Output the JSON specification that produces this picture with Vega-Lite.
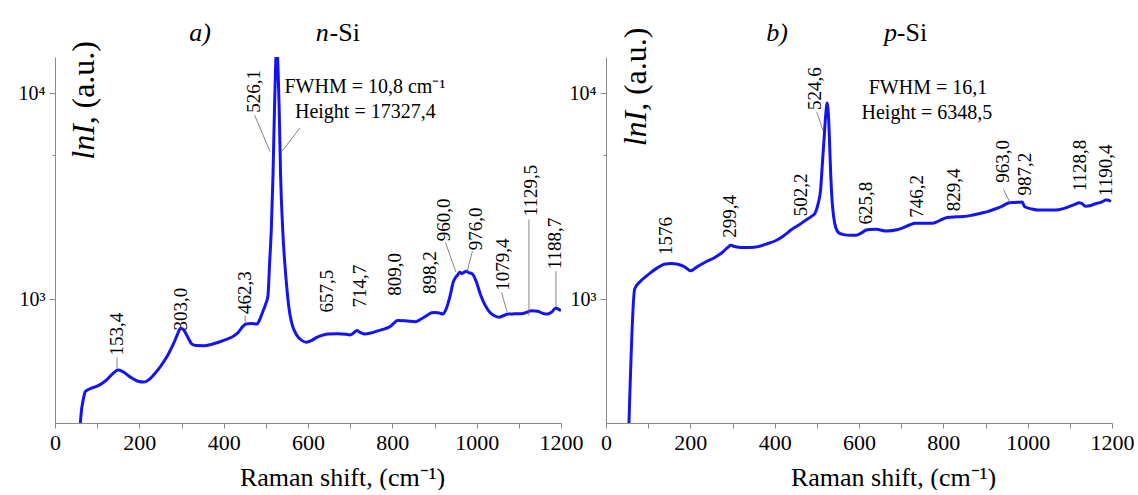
{
  "$schema": "https://vega.github.io/schema/vega-lite/v6.json",
  "autosize": {"type": "pad"},
  "padding": {"left": 18, "top": 20, "right": 5, "bottom": 0},
  "background": "white",
  "bounds": "flush",
  "spacing": 45,
  "config": {
    "view": {"stroke": null},
    "font": "Liberation Serif",
    "text": {"font": "Liberation Serif"},
    "axis": {"grid": false, "domainColor": "#8a8a8a", "tickColor": "#8a8a8a", "labelColor": "#000000", "titleColor": "#000000", "labelFont": "Liberation Serif", "titleFont": "Liberation Serif", "titleFontWeight": "normal"}
  },
  "datasets": {
    "nsi": [
      {"x": 60, "y": 250}, {"x": 63, "y": 290}, {"x": 67, "y": 325}, {"x": 72, "y": 356}, {"x": 85, "y": 368},
      {"x": 100, "y": 378}, {"x": 112, "y": 390}, {"x": 125, "y": 410}, {"x": 140, "y": 440}, {"x": 150, "y": 452},
      {"x": 160, "y": 445}, {"x": 177, "y": 420}, {"x": 195, "y": 400}, {"x": 211, "y": 395}, {"x": 222, "y": 405},
      {"x": 233, "y": 426}, {"x": 250, "y": 470}, {"x": 267, "y": 532}, {"x": 280, "y": 600}, {"x": 290, "y": 670},
      {"x": 298, "y": 722}, {"x": 305, "y": 710}, {"x": 311, "y": 677}, {"x": 318, "y": 635}, {"x": 324, "y": 606},
      {"x": 335, "y": 595}, {"x": 354, "y": 594}, {"x": 370, "y": 602}, {"x": 388, "y": 617}, {"x": 405, "y": 635},
      {"x": 423, "y": 659}, {"x": 435, "y": 690}, {"x": 445, "y": 735}, {"x": 453, "y": 757}, {"x": 465, "y": 760},
      {"x": 479, "y": 757}, {"x": 486, "y": 800}, {"x": 492, "y": 861}, {"x": 500, "y": 950}, {"x": 505, "y": 1037},
      {"x": 509, "y": 1500}, {"x": 513, "y": 2185}, {"x": 517, "y": 4000}, {"x": 520.7, "y": 8700}, {"x": 523, "y": 13000},
      {"x": 526.1, "y": 17327}, {"x": 529, "y": 13000}, {"x": 531.5, "y": 8700}, {"x": 535, "y": 4000}, {"x": 540, "y": 2185},
      {"x": 548, "y": 1250}, {"x": 555, "y": 900}, {"x": 561, "y": 771}, {"x": 568, "y": 700}, {"x": 574, "y": 664},
      {"x": 585, "y": 630}, {"x": 596, "y": 617}, {"x": 610, "y": 632}, {"x": 622, "y": 653}, {"x": 635, "y": 668},
      {"x": 648, "y": 677}, {"x": 670, "y": 678}, {"x": 690, "y": 675}, {"x": 699, "y": 670}, {"x": 706, "y": 678},
      {"x": 712, "y": 695}, {"x": 716.5, "y": 703}, {"x": 722, "y": 692}, {"x": 734, "y": 677}, {"x": 750, "y": 685},
      {"x": 768, "y": 703}, {"x": 785, "y": 720}, {"x": 798, "y": 743}, {"x": 805, "y": 768}, {"x": 811.5, "y": 786},
      {"x": 830, "y": 785}, {"x": 855, "y": 777}, {"x": 868, "y": 800}, {"x": 881, "y": 830}, {"x": 893, "y": 858},
      {"x": 902, "y": 861}, {"x": 912, "y": 855}, {"x": 920, "y": 846}, {"x": 928, "y": 900}, {"x": 937, "y": 1037},
      {"x": 944, "y": 1200}, {"x": 950, "y": 1274}, {"x": 955, "y": 1310}, {"x": 960, "y": 1350}, {"x": 965, "y": 1330},
      {"x": 970, "y": 1350}, {"x": 976, "y": 1365}, {"x": 982, "y": 1340}, {"x": 987, "y": 1335}, {"x": 993, "y": 1297},
      {"x": 1000, "y": 1200}, {"x": 1010, "y": 1037}, {"x": 1020, "y": 935}, {"x": 1031.6, "y": 861}, {"x": 1042, "y": 830},
      {"x": 1053, "y": 815}, {"x": 1063, "y": 830}, {"x": 1075, "y": 846}, {"x": 1090, "y": 848}, {"x": 1110, "y": 852},
      {"x": 1131, "y": 878}, {"x": 1145, "y": 872}, {"x": 1160, "y": 848}, {"x": 1168, "y": 846}, {"x": 1178, "y": 865},
      {"x": 1187, "y": 902}, {"x": 1193, "y": 895}, {"x": 1200, "y": 878}
    ],
    "psi": [
      {"x": 54.5, "y": 250}, {"x": 68, "y": 1118}, {"x": 80, "y": 1210}, {"x": 95, "y": 1290}, {"x": 106, "y": 1345},
      {"x": 120, "y": 1410}, {"x": 138, "y": 1476}, {"x": 155, "y": 1490}, {"x": 170, "y": 1476}, {"x": 185, "y": 1440},
      {"x": 201, "y": 1371}, {"x": 215, "y": 1430}, {"x": 235, "y": 1510}, {"x": 258, "y": 1592}, {"x": 275, "y": 1680},
      {"x": 290, "y": 1790}, {"x": 296, "y": 1824}, {"x": 305, "y": 1800}, {"x": 321, "y": 1779}, {"x": 340, "y": 1780},
      {"x": 361, "y": 1798}, {"x": 380, "y": 1850}, {"x": 401, "y": 1915}, {"x": 420, "y": 2020}, {"x": 441, "y": 2182},
      {"x": 460, "y": 2310}, {"x": 473, "y": 2412}, {"x": 488, "y": 2530}, {"x": 495, "y": 2600}, {"x": 503, "y": 2900},
      {"x": 509, "y": 3405}, {"x": 513, "y": 4500}, {"x": 517, "y": 5944}, {"x": 521, "y": 7800}, {"x": 524.6, "y": 8958},
      {"x": 528, "y": 7500}, {"x": 530, "y": 5944}, {"x": 533, "y": 4000}, {"x": 536, "y": 3047}, {"x": 540, "y": 2500},
      {"x": 545, "y": 2222}, {"x": 552, "y": 2100}, {"x": 561, "y": 2063}, {"x": 580, "y": 2040}, {"x": 593, "y": 2041},
      {"x": 605, "y": 2090}, {"x": 617, "y": 2165}, {"x": 625, "y": 2180}, {"x": 641, "y": 2182}, {"x": 665, "y": 2141},
      {"x": 690, "y": 2170}, {"x": 705, "y": 2222}, {"x": 720, "y": 2290}, {"x": 733, "y": 2333}, {"x": 750, "y": 2335},
      {"x": 773, "y": 2333}, {"x": 790, "y": 2400}, {"x": 809, "y": 2490}, {"x": 830, "y": 2510}, {"x": 849, "y": 2518},
      {"x": 870, "y": 2560}, {"x": 889, "y": 2612}, {"x": 905, "y": 2660}, {"x": 921, "y": 2731}, {"x": 940, "y": 2830},
      {"x": 957, "y": 2940}, {"x": 970, "y": 2945}, {"x": 981, "y": 2958}, {"x": 987, "y": 2960}, {"x": 993, "y": 2807},
      {"x": 1010, "y": 2740}, {"x": 1025, "y": 2706}, {"x": 1065, "y": 2706}, {"x": 1085, "y": 2750}, {"x": 1101, "y": 2826},
      {"x": 1115, "y": 2900}, {"x": 1121, "y": 2940}, {"x": 1128, "y": 2920}, {"x": 1137, "y": 2826}, {"x": 1150, "y": 2850},
      {"x": 1161, "y": 2906}, {"x": 1175, "y": 2960}, {"x": 1185, "y": 3027}, {"x": 1190, "y": 3030}, {"x": 1197, "y": 2972}
    ],
    "nlab": [
      {"x": 147, "y": 532, "t": "153,4"}, {"x": 298, "y": 703, "t": "303,0"}, {"x": 451, "y": 846, "t": "462,3"},
      {"x": 645, "y": 861, "t": "657,5"}, {"x": 722.6, "y": 911, "t": "714,7"}, {"x": 807, "y": 1037, "t": "809,0"},
      {"x": 889, "y": 1057, "t": "898,2"}, {"x": 922, "y": 1910, "t": "960,0"}, {"x": 998, "y": 1726, "t": "976,0"},
      {"x": 1063, "y": 1097, "t": "1079,4"}, {"x": 1129.5, "y": 2523, "t": "1129,5"}, {"x": 1185, "y": 1397, "t": "1188,7"},
      {"x": 473, "y": 8035, "t": "526,1"}
    ],
    "plab": [
      {"x": 141.6, "y": 1637, "t": "1576"}, {"x": 293.6, "y": 1986, "t": "299,4"}, {"x": 463, "y": 2529, "t": "502,2"},
      {"x": 496, "y": 8300, "t": "524,6"}, {"x": 617, "y": 2306, "t": "625,8"}, {"x": 737, "y": 2483, "t": "746,2"},
      {"x": 825, "y": 2674, "t": "829,4"}, {"x": 941, "y": 3673, "t": "963,0"}, {"x": 994, "y": 3186, "t": "987,2"},
      {"x": 1125, "y": 3342, "t": "1128,8"}, {"x": 1185, "y": 3162, "t": "1190,4"}
    ],
    "nlead": [
      {"x": 147, "x2": 147, "y": 522, "y2": 458}, {"x": 451, "x2": 451, "y": 831, "y2": 757},
      {"x": 926, "x2": 951, "y": 1880, "y2": 1351}, {"x": 990, "x2": 977, "y": 1713, "y2": 1346},
      {"x": 1059, "x2": 1072, "y": 1077, "y2": 868}, {"x": 1124, "x2": 1124, "y": 2438, "y2": 830},
      {"x": 1188, "x2": 1188, "y": 1366, "y2": 915}, {"x": 473, "x2": 510, "y": 7850, "y2": 5210},
      {"x": 581, "x2": 538, "y": 6790, "y2": 5210}
    ],
    "plead": [
      {"x": 500, "x2": 515, "y": 8100, "y2": 6560}, {"x": 943, "x2": 959, "y": 3400, "y2": 2913}
    ],
    "ntxt": [
      {"x": 735, "y": 10730, "t": "FWHM = 10,8 cm⁻¹"}, {"x": 736, "y": 8150, "t": "Height = 17327,4"}
    ],
    "ptxt": [
      {"x": 763.6, "y": 10600, "t": "FWHM = 16,1"}, {"x": 761, "y": 8040, "t": "Height = 6348,5"}
    ],
    "nrom": [{"x": 687, "y": 19570, "t": "-Si"}],
    "prom": [{"x": 725.7, "y": 19570, "t": "-Si"}],
    "nital": [{"x": 344, "y": 19570, "t": "a)"}, {"x": 634, "y": 19570, "t": "n"}],
    "pital": [{"x": 405.5, "y": 19570, "t": "b)"}, {"x": 674.7, "y": 19570, "t": "p"}],
    "nyt1": [{"x": 69, "y": 4755, "t": "lnI,"}],
    "nyt2": [{"x": 69, "y": 8430, "t": "(a.u.)"}],
    "pyt1": [{"x": 71, "y": 5520, "t": "lnI,"}],
    "pyt2": [{"x": 71, "y": 9800, "t": "(a.u.)"}]
  },
  "hconcat": [
    {
      "width": 506,
      "height": 366,
      "encoding": {
        "x": {"field": "x", "type": "quantitative", "scale": {"domain": [0, 1200], "nice": false, "zero": false},
          "axis": {"values": [0, 100, 200, 300, 400, 500, 600, 700, 800, 900, 1000, 1100, 1200], "format": "d",
            "labelExpr": "datum.value % 200 == 0 ? datum.label : ''", "tickSize": 5, "labelFontSize": 22, "labelPadding": 4,
            "labelFont": "Liberation Serif", "labelFlush": false, "title": "Raman shift, (cm⁻¹)", "titleFontSize": 26, "titleX": 287, "titleY": 62,
            "titleBaseline": "alphabetic", "titleAnchor": "middle"}},
        "y": {"field": "y", "type": "quantitative", "scale": {"type": "log", "domain": [250, 15000], "nice": false},
          "axis": {"values": [1000, 5000, 10000], "labelExpr": "datum.value == 10000 ? '10⁴' : datum.value == 1000 ? '10³' : ''",
            "labelFont": "Liberation Serif", "tickSize": {"condition": {"test": "datum.value == 5000", "value": 3}, "value": 6}, "labelFontSize": 20, "labelPadding": 4, "title": null}}
      },
      "layer": [
        {"data": {"name": "nsi"}, "mark": {"type": "line", "color": "#1414f0", "strokeWidth": 3, "clip": true, "interpolate": "monotone"}},
        {"data": {"name": "nlead"}, "mark": {"type": "rule", "color": "#666666", "strokeWidth": 0.8}, "encoding": {"x2": {"field": "x2"}, "y2": {"field": "y2"}}},
        {"data": {"name": "nlab"}, "mark": {"type": "text", "angle": 270, "align": "left", "baseline": "middle", "fontSize": 19, "font": "Liberation Serif", "color": "#000"}, "encoding": {"text": {"field": "t"}}},
        {"data": {"name": "ntxt"}, "mark": {"type": "text", "align": "center", "baseline": "middle", "fontSize": 20, "font": "Liberation Serif", "color": "#000"}, "encoding": {"text": {"field": "t"}}},
        {"data": {"name": "nrom"}, "mark": {"type": "text", "align": "center", "baseline": "middle", "fontSize": 26, "font": "Liberation Serif", "color": "#000"}, "encoding": {"text": {"field": "t"}}},
        {"data": {"name": "nital"}, "mark": {"type": "text", "align": "center", "baseline": "middle", "fontSize": 26, "fontStyle": "italic", "font": "Liberation Serif", "color": "#000"}, "encoding": {"text": {"field": "t"}}},
        {"data": {"name": "nyt1"}, "mark": {"type": "text", "angle": 270, "align": "left", "baseline": "middle", "fontSize": 32, "fontStyle": "italic", "font": "Liberation Serif", "color": "#000"}, "encoding": {"text": {"field": "t"}}},
        {"data": {"name": "nyt2"}, "mark": {"type": "text", "angle": 270, "align": "left", "baseline": "middle", "fontSize": 32, "font": "Liberation Serif", "color": "#000"}, "encoding": {"text": {"field": "t"}}}
      ]
    },
    {
      "width": 506,
      "height": 366,
      "encoding": {
        "x": {"field": "x", "type": "quantitative", "scale": {"domain": [0, 1200], "nice": false, "zero": false},
          "axis": {"values": [0, 100, 200, 300, 400, 500, 600, 700, 800, 900, 1000, 1100, 1200], "format": "d",
            "labelExpr": "datum.value % 200 == 0 ? datum.label : ''", "tickSize": 5, "labelFontSize": 22, "labelPadding": 4,
            "labelFont": "Liberation Serif", "labelFlush": false, "title": "Raman shift, (cm⁻¹)", "titleFontSize": 26, "titleX": 287, "titleY": 62,
            "titleBaseline": "alphabetic", "titleAnchor": "middle"}},
        "y": {"field": "y", "type": "quantitative", "scale": {"type": "log", "domain": [250, 15000], "nice": false},
          "axis": {"values": [1000, 5000, 10000], "labelExpr": "datum.value == 10000 ? '10⁴' : datum.value == 1000 ? '10³' : ''",
            "labelFont": "Liberation Serif", "tickSize": {"condition": {"test": "datum.value == 5000", "value": 3}, "value": 6}, "labelFontSize": 20, "labelPadding": 4, "title": null}}
      },
      "layer": [
        {"data": {"name": "psi"}, "mark": {"type": "line", "color": "#1414f0", "strokeWidth": 3, "clip": true, "interpolate": "monotone"}},
        {"data": {"name": "plead"}, "mark": {"type": "rule", "color": "#666666", "strokeWidth": 0.8}, "encoding": {"x2": {"field": "x2"}, "y2": {"field": "y2"}}},
        {"data": {"name": "plab"}, "mark": {"type": "text", "angle": 270, "align": "left", "baseline": "middle", "fontSize": 19, "font": "Liberation Serif", "color": "#000"}, "encoding": {"text": {"field": "t"}}},
        {"data": {"name": "ptxt"}, "mark": {"type": "text", "align": "center", "baseline": "middle", "fontSize": 20, "font": "Liberation Serif", "color": "#000"}, "encoding": {"text": {"field": "t"}}},
        {"data": {"name": "prom"}, "mark": {"type": "text", "align": "center", "baseline": "middle", "fontSize": 26, "font": "Liberation Serif", "color": "#000"}, "encoding": {"text": {"field": "t"}}},
        {"data": {"name": "pital"}, "mark": {"type": "text", "align": "center", "baseline": "middle", "fontSize": 26, "fontStyle": "italic", "font": "Liberation Serif", "color": "#000"}, "encoding": {"text": {"field": "t"}}},
        {"data": {"name": "pyt1"}, "mark": {"type": "text", "angle": 270, "align": "left", "baseline": "middle", "fontSize": 32, "fontStyle": "italic", "font": "Liberation Serif", "color": "#000"}, "encoding": {"text": {"field": "t"}}},
        {"data": {"name": "pyt2"}, "mark": {"type": "text", "angle": 270, "align": "left", "baseline": "middle", "fontSize": 32, "font": "Liberation Serif", "color": "#000"}, "encoding": {"text": {"field": "t"}}}
      ]
    }
  ]
}
